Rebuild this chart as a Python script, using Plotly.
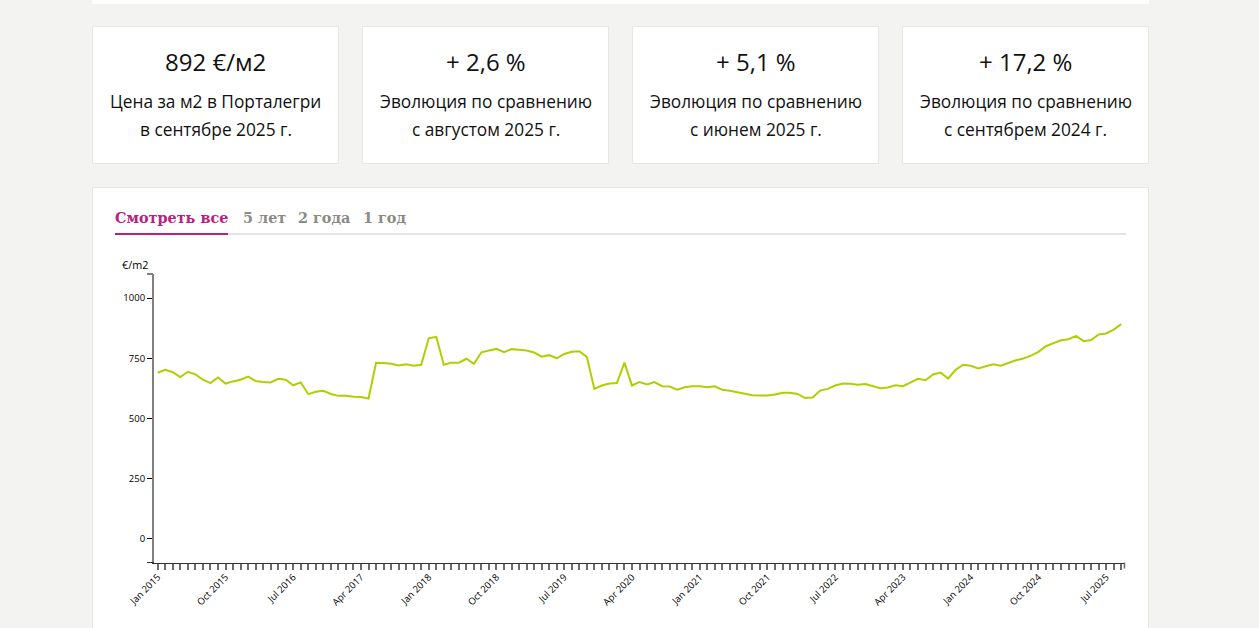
"""Price per m2 in Portalegre: KPI cards above a monthly line chart."""

import plotly.graph_objects as go

W, H = 1259, 628

MONTH_NAMES = ["Jan", "Feb", "Mar", "Apr", "May", "Jun", "Jul", "Aug", "Sep", "Oct", "Nov", "Dec"]
months = [f"{MONTH_NAMES[i % 12]} {2015 + i // 12}" for i in range(129)]

prices = [
    690, 702, 692, 672, 694, 683, 661, 647, 670, 645, 654, 661, 674, 656, 652, 650,
    665, 661, 638, 650, 601, 611, 615, 602, 594, 594, 590, 589, 583, 731, 730, 727,
    720, 725, 719, 723, 833, 839, 723, 732, 732, 748, 727, 775, 782, 789, 775, 788,
    785, 782, 774, 757, 763, 750, 768, 777, 779, 756, 623, 637, 645, 647, 732, 637,
    651, 641, 651, 634, 633, 620, 630, 634, 634, 630, 634, 619, 615, 608, 601, 597,
    596, 596, 600, 607, 607, 602, 585, 587, 616, 623, 637, 645, 644, 640, 643, 633,
    626, 629, 638, 634, 651, 665, 659, 683, 691, 666, 702, 723, 719, 708, 717, 725,
    719, 732, 742, 749, 761, 777, 800, 813, 825, 829, 843, 821, 826, 849, 853, 869,
    892,
]

y_ticks = [0, 250, 500, 750, 1000]
x_labels = ["Jan 2015", "Oct 2015", "Jul 2016", "Apr 2017", "Jan 2018", "Oct 2018", "Jul 2019",
            "Apr 2020", "Jan 2021", "Oct 2021", "Jul 2022", "Apr 2023", "Jan 2024", "Oct 2024",
            "Jul 2025"]

kpi_values = ["892 €/м2", "+ 2,6 %", "+ 5,1 %", "+ 17,2 %"]
kpi_lines = [
    ("Цена за м2 в Порталегри", "в сентябре 2025 г."),
    ("Эволюция по сравнению", "с августом 2025 г."),
    ("Эволюция по сравнению", "с июнем 2025 г."),
    ("Эволюция по сравнению", "с сентябрем 2024 г."),
]
tabs = ["Смотреть все", "5 лет", "2 года", "1 год"]

PAGE_BG = "#f3f3f2"
BORDER = "#e6e6e3"
LINE_GREEN = "#afd000"
MAGENTA = "#b9217f"
TEXT_FONT = "Open Sans"


def px(x):
    return x / W


def py(y):
    return 1 - y / H


def rect(x0, y0, x1, y1, fill, line=None):
    return dict(type="rect", xref="paper", yref="paper", layer="below",
                x0=px(x0), x1=px(x1), y0=py(y1), y1=py(y0), fillcolor=fill,
                line=dict(color=line or fill, width=1 if line else 0))


def seg(x0, y0, x1, y1, color, width=1):
    return dict(type="line", xref="paper", yref="paper",
                x0=px(x0), x1=px(x1), y0=py(y0), y1=py(y1),
                line=dict(color=color, width=width))


def label(x, y, text, size, color="#111111", anchor="center", family=TEXT_FONT, bold=False):
    return dict(xref="paper", yref="paper", x=px(x), y=py(y), text=f"<b>{text}</b>" if bold else text,
                showarrow=False, xanchor=anchor, yanchor="middle",
                font=dict(family=family, size=size, color=color))


shapes = [rect(92, 0, 1149, 4, "#ffffff"), rect(92.5, 187.5, 1148.5, 640, "#ffffff", BORDER)]
annotations = []

for card_x, value, (line1, line2) in zip((92.5, 362.5, 632.5, 902.5), kpi_values, kpi_lines):
    shapes.append(rect(card_x, 26.5, card_x + 246, 163.5, "#ffffff", BORDER))
    cx = card_x + 123
    annotations.append(label(cx, 61, value, 24))
    annotations.append(label(cx, 102, line1, 17.3))
    annotations.append(label(cx, 129, line2, 17.3))

for tab_x, text, color in zip((113, 241, 296, 361), tabs, (MAGENTA, "#8a8a86", "#8a8a86", "#8a8a86")):
    annotations.append(label(tab_x, 217, text, 14.4, color=color, anchor="left", family="DejaVu Serif", bold=True))

shapes.append(seg(115, 234, 1126, 234, "#e3e3df", 2))
shapes.append(seg(115, 234, 228, 234, MAGENTA, 2))
annotations.append(label(135, 264, "€/m2", 10.8, color="#000000"))

# outer ticks of the two axis lines
shapes.append(seg(147, 274, 153, 274, "#808080", 2))
shapes.append(seg(147, 562.5, 154, 562.5, "#333333", 1))
shapes.append(seg(1124.5, 562.5, 1124.5, 568.5, "#6b6b6b", 1.5))

fig = go.Figure(
    go.Scatter(x=months, y=prices, mode="lines", line=dict(color=LINE_GREEN, width=2, shape="linear"),
               hoverinfo="x+y")
)

fig.update_layout(
    width=W,
    height=H,
    autosize=False,
    margin=dict(l=0, r=0, t=0, b=0),
    paper_bgcolor=PAGE_BG,
    plot_bgcolor="rgba(0,0,0,0)",
    showlegend=False,
    shapes=shapes,
    annotations=annotations,
    xaxis=dict(
        type="category",
        automargin=False,
        domain=[px(154), px(1125)],
        range=[-0.5, 128.5],
        categoryorder="array",
        categoryarray=months,
        tickmode="array",
        tickvals=months,
        ticktext=[m if m in x_labels else "" for m in months],
        tickangle=-45,
        ticks="outside",
        ticklen=6,
        tickwidth=1.5,
        tickcolor="#6b6b6b",
        tickfont=dict(family=TEXT_FONT, size=9.5, color="#000000"),
        ticklabelstandoff=-2,
        showline=True,
        linecolor="#333333",
        linewidth=1,
        showgrid=False,
        zeroline=False,
    ),
    yaxis=dict(
        automargin=False,
        domain=[py(563), py(274)],
        range=[-100, 1100],
        tickmode="array",
        tickvals=y_ticks,
        ticks="outside",
        ticklen=5,
        tickwidth=1,
        tickcolor="#000000",
        tickfont=dict(family=TEXT_FONT, size=9.5, color="#000000"),
        showline=True,
        linecolor="#808080",
        linewidth=2,
        showgrid=False,
        zeroline=False,
    ),
)

# default page body has an 8px margin, which would shift the whole figure
fig.write_html("out.html", config={"displayModeBar": False},
               post_script="document.body.style.margin = '0';")
